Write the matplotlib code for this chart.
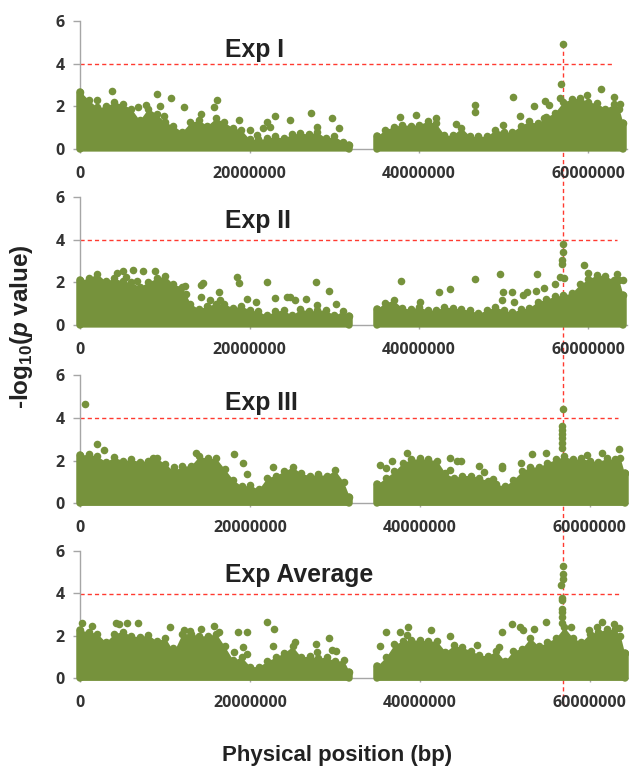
import numpy as np
import matplotlib
matplotlib.use("Agg")
import matplotlib.pyplot as plt

plt.rcParams["mathtext.fontset"] = "custom"
plt.rcParams["mathtext.bf"] = "Liberation Sans:bold"
plt.rcParams["mathtext.bfit"] = "Liberation Sans:italic:bold"
plt.rcParams["mathtext.rm"] = "Liberation Sans:bold"

# --- Data (positions in Mb, values are -log10 p) ---
left_pos = list(range(0, 32)) + [31.7]
right_pos = list(range(35, 64)) + [63.6, 64.1]

exp1_left = [2.7, 2.3, 1.95, 2.0, 2.2, 2.1, 1.9, 1.35, 1.9, 1.65, 1.25, 1.1, 0.8, 1.25, 1.35, 1.1,
             1.45, 1.25, 1.0, 0.9, 0.45, 0.45, 0.5, 0.6, 0.5, 0.7, 0.75, 0.7, 0.8, 0.5, 0.6, 0.35, 0.2]
exp1_right = [0.6, 0.9, 1.05, 1.15, 1.1, 1.15, 1.3, 1.2, 0.65, 0.65, 1.0, 0.6, 0.6, 0.6, 0.9, 0.8,
              0.8, 1.1, 1.3, 1.2, 1.5, 1.7, 2.2, 2.35, 2.4, 2.2, 2.15, 1.9, 2.1, 1.9, 1.2]
exp1_x = [3.8, 1.93, 9.0, 9.4, 9.9, 10.7, 12.2, 16.2, 15.8, 18.7, 14.3, 23, 22.1, 24.8, 27.2, 29.7,
          27.9, 30.5, 20, 20.9, 21.6, 22.4, 6.85, 7.75, 57.05, 56.8, 61.45, 59.8, 51.05, 46.55, 46.55,
          37.75, 39.65, 42.05, 44.4, 49.9, 53.6, 51.9, 54.9, 55.3, 54.7, 56.7, 63, 63.7]
exp1_y = [2.73, 2.3, 2.58, 2.02, 1.55, 2.4, 1.95, 2.3, 1.95, 1.36, 1.65, 1.55, 1.27, 1.36, 1.68, 1.45,
          1.03, 0.97, 0.9, 0.65, 0.97, 1.05, 1.95, 2.07, 4.94, 3.04, 2.8, 2.54, 2.45, 2.07, 1.72,
          1.5, 1.6, 1.47, 1.18, 1.13, 2.02, 1.57, 2.26, 2.07, 1.44, 2.38, 2.43, 2.1]

exp2_left = [2.1, 2.2, 2.4, 2.05, 2.2, 2.05, 2.0, 1.8, 2.0, 2.2, 2.3, 1.9, 1.8, 1.0, 0.75, 0.9,
             1.0, 1.0, 0.8, 0.9, 0.7, 0.65, 0.45, 0.65, 0.7, 0.45, 0.75, 0.65, 0.7, 0.7, 0.45, 0.65, 0.4]
exp2_right = [0.75, 1.05, 1.15, 0.8, 0.75, 0.85, 0.7, 0.7, 0.85, 0.8, 0.75, 0.7, 0.55, 0.7, 0.85, 0.7,
              0.6, 0.75, 0.8, 1.1, 1.2, 1.35, 1.4, 1.5, 1.9, 2.15, 2.35, 2.3, 2.1, 2.1, 1.4]
exp2_x = [6.25, 4.35, 5.4, 5.1, 7.45, 6.75, 8.8, 9.9, 10.7, 12.35, 12.45, 14.5, 14.25, 14.3, 15.3,
          16.4, 16.5, 18.45, 18.7, 19.65, 20.8, 22.1, 22.95, 24.4, 24.75, 25.35, 26.6, 27.8, 29.4,
          30.2, 27.9, 57.05, 57, 56.9, 56.9, 56.7, 57.1, 59.5, 60, 37.9, 46.55, 49.5, 53.95, 42.35,
          43.7, 49.9, 49.75, 51, 51.2, 52.3, 52.75, 53.75, 54.7, 56.1, 64.1, 63.4, 40.1]
exp2_y = [2.58, 2.43, 2.27, 2.54, 2.54, 2.07, 2.54, 1.85, 1.52, 1.85, 1.46, 1.99, 1.88, 1.3, 1.18,
          1.57, 1.18, 2.27, 1.97, 1.22, 1.08, 2.02, 1.25, 1.33, 1.3, 1.18, 1.22, 2.02, 1.6,
          0.99, 0.94, 3.82, 3.42, 3.06, 2.85, 2.27, 2.2, 2.79, 2.46, 2.07, 2.16, 2.37, 2.41, 1.57,
          1.69, 1.57, 1.19, 1.57, 1.1, 1.41, 1.54, 1.6, 1.72, 1.91, 2.12, 2.4, 1.07]

exp3_left = [2.25, 2.3, 2.2, 1.95, 2.15, 2.0, 2.05, 1.95, 2.0, 2.1, 1.85, 1.5, 1.75, 1.75, 2.2, 2.1,
             2.1, 1.6, 1.1, 0.8, 0.85, 0.65, 1.2, 1.3, 1.5, 1.7, 1.4, 1.3, 1.35, 1.3, 1.55, 1.0, 0.3]
exp3_right = [0.9, 1.2, 1.5, 1.9, 2.05, 2.1, 2.05, 2.0, 1.4, 1.2, 1.3, 1.3, 1.2, 1.05, 0.9, 0.8,
              1.1, 1.5, 1.7, 1.7, 1.9, 2.05, 2.2, 2.05, 2.1, 2.0, 1.95, 2.1, 2.05, 2.1, 1.4]
exp3_x = [0.6, 2, 2.8, 18.1, 19.2, 19.6, 11, 22.7, 8.6, 13.6, 56.9, 56.75, 56.75, 56.75, 56.75, 56.75,
          56.75, 35.3, 36, 36.7, 38.5, 43.6, 44.4, 44.8, 43.6, 46.95, 47.5, 49.7, 49.7, 53.2, 54.9,
          51.85, 61.5, 63.4, 59.7, 48.6]
exp3_y = [4.64, 2.78, 2.48, 2.3, 1.88, 1.39, 1.72, 1.72, 2.1, 2.33, 4.41, 3.6, 3.44, 3.25, 3.05, 2.8,
          2.58, 1.78, 1.63, 1.97, 2.34, 2.1, 2.0, 2.0, 1.58, 1.75, 1.48, 1.75, 1.64, 2.3, 2.34,
          1.87, 2.34, 2.53, 2.27, 1.14]

avg_left = [2.25, 2.2, 2.1, 1.7, 2.1, 2.2, 2.0, 1.95, 2.05, 1.75, 1.9, 1.25, 2.1, 2.1, 2.0, 2.0,
            2.1, 1.5, 0.85, 1.0, 0.55, 0.55, 0.8, 1.0, 1.2, 1.5, 1.0, 1.05, 0.95, 1.0, 0.8, 0.85, 0.3]
avg_right = [0.6, 1.0, 1.6, 1.75, 1.8, 1.8, 1.75, 1.75, 1.25, 1.55, 1.45, 1.3, 1.1, 1.05, 1.3, 0.8,
             1.3, 1.4, 1.9, 1.5, 1.7, 1.9, 2.4, 1.9, 1.7, 2.1, 2.2, 2.3, 2.3, 2.0, 1.2]
avg_x = [0.15, 1.4, 4.15, 4.5, 5.45, 6.8, 10.6, 12.2, 12.9, 14.25, 15.7, 16.3, 18.6, 19.6, 19.2, 19.6,
         22, 22.85, 22.7, 25.25, 27.8, 29.25, 29.7, 30.1, 27.9, 10.95, 18.1, 56.9, 56.9, 56.9, 56.65,
         56.75, 56.75, 56.75, 56.75, 56.75, 56.7, 36.05, 37.7, 38.6, 38.5, 35.3, 41.35, 43.6, 49.7,
         50.9, 51.75, 52.1, 53.4, 54.8, 57.75, 59.9, 61.4, 60.8, 62.9, 63.4, 46.75, 49.35]
avg_y = [2.58, 2.45, 2.58, 2.53, 2.58, 2.58, 2.39, 2.27, 2.23, 2.3, 2.47, 2.17, 2.16, 2.16, 1.45, 1.13,
         2.63, 2.3, 1.53, 1.72, 1.59, 1.88, 1.31, 1.27, 1.22, 1.44, 1.22, 5.27, 4.92, 4.66, 4.38,
         3.78, 3.67, 3.28, 3.13, 2.89, 2.58, 2.16, 2.16, 2.39, 2.02, 1.5, 2.25, 1.97, 2.16,
         2.53, 2.39, 2.27, 2.31, 2.63, 2.39, 2.27, 2.63, 2.42, 2.55, 2.38, 1.56, 1.45]

titles = ["Exp I", "Exp II", "Exp III", "Exp Average"]
title_y = [4.32, 4.55, 4.36, 4.52]
thresholds = [4.0, 3.97, 4.0, 3.97]
threshold_end = [62.9e6, 63.4e6, 63.3e6, 63.7e6]
x_ticks = [0, 20000000, 40000000, 60000000]
y_ticks = [0, 2, 4, 6]
peak_pos = 56950000

panels = [
    (exp1_left, exp1_right, exp1_x, exp1_y),
    (exp2_left, exp2_right, exp2_x, exp2_y),
    (exp3_left, exp3_right, exp3_x, exp3_y),
    (avg_left, avg_right, avg_x, avg_y),
]

# pixel extents of each panel: y of 6, y of 0, x of right end
panel_px = [(21.3, 149, 627.4), (197, 325, 627.4), (375, 503.3, 628.8), (550.7, 678.3, 628.8)]

W, H = 629, 770
GREEN = "#76923c"
RED = "#ff3a30"
GREY = "#a6a6a6"
DARK = "#333333"
DOT = 30
x0_px = 80.3
x_max = 64.6e6

fig = plt.figure(figsize=(W / 100, H / 100), dpi=100)

# long red line behind all the panels
back = fig.add_axes([x0_px / W, 0, (627.4 - x0_px) / W, 1], zorder=0)
back.set_xlim(0, x_max)
back.set_ylim(H, 0)
back.axis("off")
back.plot([peak_pos, peak_pos], [44, 705], color=RED, lw=1, dashes=(3, 2.2))

for i, (lvals, rvals, ox, oy) in enumerate(panels):
    top, bot, right = panel_px[i]
    ax = fig.add_axes([x0_px / W, 1 - bot / H, (right - x0_px) / W, (bot - top) / H], zorder=1 + i)
    ax.patch.set_visible(False)

    for pos, vals in ((left_pos, lvals), (right_pos, rvals)):
        xs = np.array(pos) * 1e6
        ax.fill_between(xs, -0.1, vals, color=GREEN, lw=0, zorder=3, clip_on=False)
        ax.scatter(xs, vals, s=DOT, color=GREEN, linewidths=0, zorder=3, clip_on=False)
        # rounded edges of the dense mass at both ends
        ax.vlines([xs[0], xs[-1]], 0, [vals[0], vals[-1]], color=GREEN, lw=5.4, zorder=3,
                  capstyle="round", clip_on=False)
    ax.scatter(np.array(ox) * 1e6, oy, s=DOT, color=GREEN, linewidths=0, zorder=4, clip_on=False)

    # threshold
    ax.plot([0, threshold_end[i]], [thresholds[i]] * 2, color=RED, lw=1, dashes=(3, 2.2), zorder=2)

    ax.text(17.08e6, title_y[i], titles[i], fontsize=17.8, fontweight="bold",
            family="Liberation Sans", color="#222222", va="baseline", ha="left")

    ax.set_xlim(0, x_max)
    ax.set_ylim(0, 6)
    ax.set_xticks(x_ticks)
    ax.set_xticklabels([str(t) for t in x_ticks])
    ax.set_yticks(y_ticks)
    for s in ("top", "right"):
        ax.spines[s].set_visible(False)
    for s in ("left", "bottom"):
        ax.spines[s].set_color(GREY)
        ax.spines[s].set_linewidth(1)
    ax.tick_params(axis="y", length=5, width=1, color=GREY, pad=6)
    ax.tick_params(axis="x", length=3, width=1, color=GREY, pad=9)
    for lab in ax.get_xticklabels() + ax.get_yticklabels():
        lab.set_family("Open Sans")
        lab.set_fontweight("bold")
        lab.set_fontsize(11.5)
        lab.set_color(DARK)

fig.text(22 / W, 1 - 327 / H, r"-log$_{\mathbf{10}}$($\mathbfit{p}$ value)", rotation=90,
         fontsize=17.5, fontweight="bold", family="Liberation Sans", color="#222222",
         ha="center", va="center")
fig.text(337 / W, 1 - 755 / H, "Physical position (bp)", fontsize=16, fontweight="bold",
         family="Liberation Sans", color="#222222", ha="center", va="center")

fig.savefig("out.png", dpi=100)
